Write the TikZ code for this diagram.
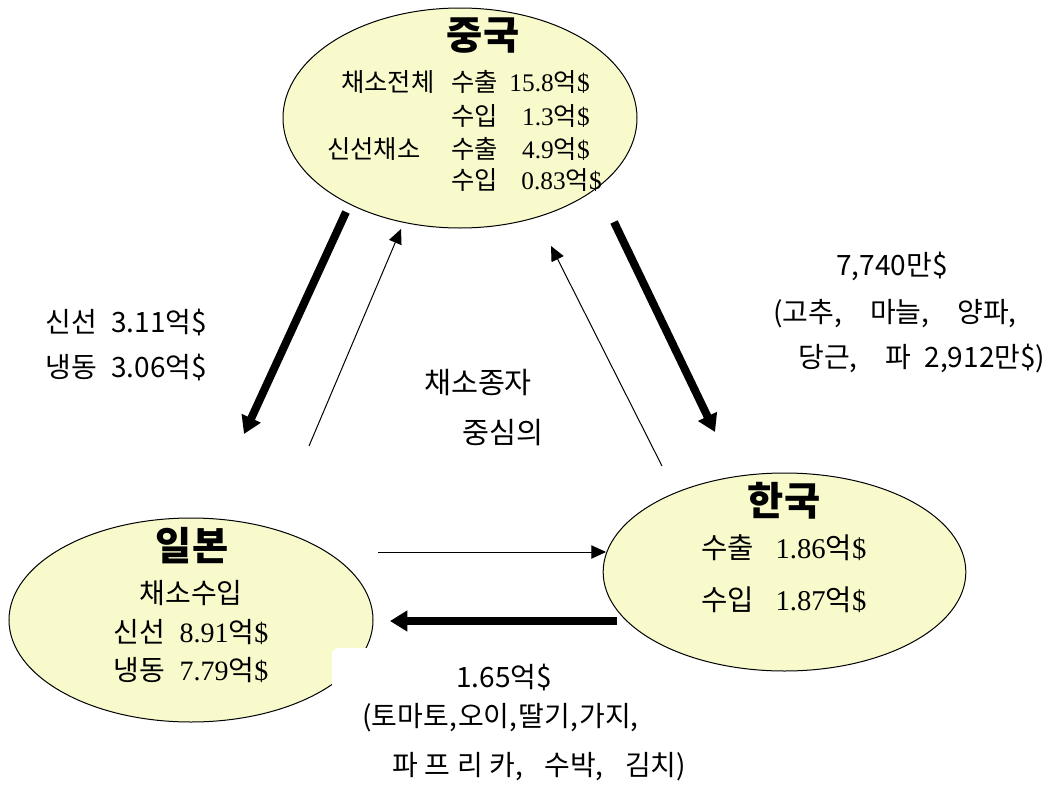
\documentclass[tikz,border=0pt]{standalone}
\usepackage{fontspec}
\setmainfont{Liberation Serif}
\newfontfamily\kr{Noto Sans CJK KR}
\usetikzlibrary{shapes.geometric,arrows.meta}
\definecolor{fillyel}{RGB}{248,250,204}
\newcommand\hg[1]{{\kr #1}}
\begin{document}
\begin{tikzpicture}[x=0.75pt,y=-0.75pt,
  land/.style={ellipse, draw=black, line width=0.75pt, fill=fillyel, inner sep=0pt},
  bigarrow/.style={line width=6pt, -{Triangle[length=13pt,width=15pt]}},
  thinarrow/.style={line width=0.75pt, -{Triangle[length=11pt,width=10pt]}},
  ttl/.style={font=\kr\bfseries\fontsize{29.5}{32}\selectfont, inner sep=0pt},
  cbody/.style={font=\fontsize{19}{21}\selectfont, inner sep=0pt},
  jbody/.style={font=\fontsize{21}{23}\selectfont, inner sep=0pt},
  kbody/.style={font=\fontsize{21.5}{23}\selectfont, inner sep=0pt},
  lab/.style={font=\kr\fontsize{21}{24}\selectfont, inner sep=0pt}]
\useasboundingbox (0,0) rectangle (1046,796);
\fill[white] (0,0) rectangle (1046,796);

% ellipses
\node[land, minimum width=265.5pt, minimum height=165pt] (china) at (460,118) {};
\node[land, minimum width=273pt, minimum height=153pt] (japan) at (191,620) {};
\node[land, minimum width=272pt, minimum height=148.5pt] (korea) at (784.5,572) {};
\fill[white, rounded corners=5pt] (332,648) rectangle (390,728);

% China text
\node[ttl] (cn-t) at (483,36) {중국};
\node[cbody, anchor=west] (cn-a1) at (341,82) {\hg{채소전체}};
\node[cbody, anchor=west] (cn-a2) at (451,82) {\hg{수출}};
\node[cbody, anchor=east] (cn-a3) at (590,82) {15.8\hg{억}\$};
\node[cbody, anchor=west] (cn-b2) at (451,116) {\hg{수입}};
\node[cbody, anchor=east] (cn-b3) at (590,116) {1.3\hg{억}\$};
\node[cbody, anchor=west] (cn-c1) at (327,149) {\hg{신선채소}};
\node[cbody, anchor=west] (cn-c2) at (451,149) {\hg{수출}};
\node[cbody, anchor=east] (cn-c3) at (590,149) {4.9\hg{억}\$};
\node[cbody, anchor=west] (cn-d2) at (451,180) {\hg{수입}};
\node[cbody, anchor=east] (cn-d3) at (602,180) {0.83\hg{억}\$};

% Japan text
\node[ttl] (jp-t) at (192,546) {일본};
\node[jbody] (jp-1) at (191,593) {\hg{채소수입}};
\node[jbody] (jp-2) at (191,632) {\hg{신선}\hspace{11pt}8.91\hg{억}\$};
\node[jbody] (jp-3) at (191,670) {\hg{냉동}\hspace{11pt}7.79\hg{억}\$};

% Korea text
\node[ttl] (ko-t) at (784,501) {한국};
\node[kbody] (ko-1) at (784,548) {\hg{수출}\hspace{16pt}1.86\hg{억}\$};
\node[kbody] (ko-2) at (784,600) {\hg{수입}\hspace{16pt}1.87\hg{억}\$};

% labels
\node[lab, anchor=west] (l-cj1) at (45,323) {신선\hspace{11pt}3.11억\$};
\node[lab, anchor=west] (l-cj2) at (45,368) {냉동\hspace{11pt}3.06억\$};
\node[lab] (l-ck1) at (892,266) {7,740만\$};
\node[lab, anchor=west] (l-ck2) at (773,314) {(고추,\hspace{21pt}마늘,\hspace{21pt}양파,};
\node[lab, anchor=west] (l-ck3) at (798,359) {당근,\hspace{21pt}파\hspace{10pt}2,912만\$)};
\node[lab, font=\kr\fontsize{22}{24}\selectfont] (l-seed1) at (478,383) {채소종자};
\node[lab, font=\kr\fontsize{22}{24}\selectfont] (l-seed2) at (503,433) {중심의};
\node[lab] (l-kj1) at (504,678) {1.65억\$};
\node[lab, anchor=west] (l-kj2) at (362,718) {(토마토,\hspace{1pt}오이,\hspace{1pt}딸기,\hspace{1pt}가지,};
\node[lab, anchor=west] (l-kj3) at (392,767) {파\hspace{5pt}프\hspace{5pt}리\hspace{5pt}카,\hspace{16pt}수박,\hspace{16pt}김치)};

% connectors
\coordinate (cj-s) at (346,212); \coordinate (cj-e) at (244,434);
\coordinate (jc-s) at (309,446); \coordinate (jc-e) at (401,229);
\coordinate (kc-s) at (662,466); \coordinate (kc-e) at (551,246);
\coordinate (ck-s) at (614,222); \coordinate (ck-e) at (715,432);
\coordinate (jk-s) at (378,552); \coordinate (jk-e) at (606,552);
\coordinate (kj-s) at (617,621); \coordinate (kj-e) at (390,621);
\draw[bigarrow] (cj-s) -- (cj-e);
\draw[thinarrow] (jc-s) -- (jc-e);
\draw[thinarrow] (kc-s) -- (kc-e);
\draw[bigarrow] (ck-s) -- (ck-e);
\draw[thinarrow] (jk-s) -- (jk-e);
\draw[bigarrow] (kj-s) -- (kj-e);
\end{tikzpicture}
\end{document}
